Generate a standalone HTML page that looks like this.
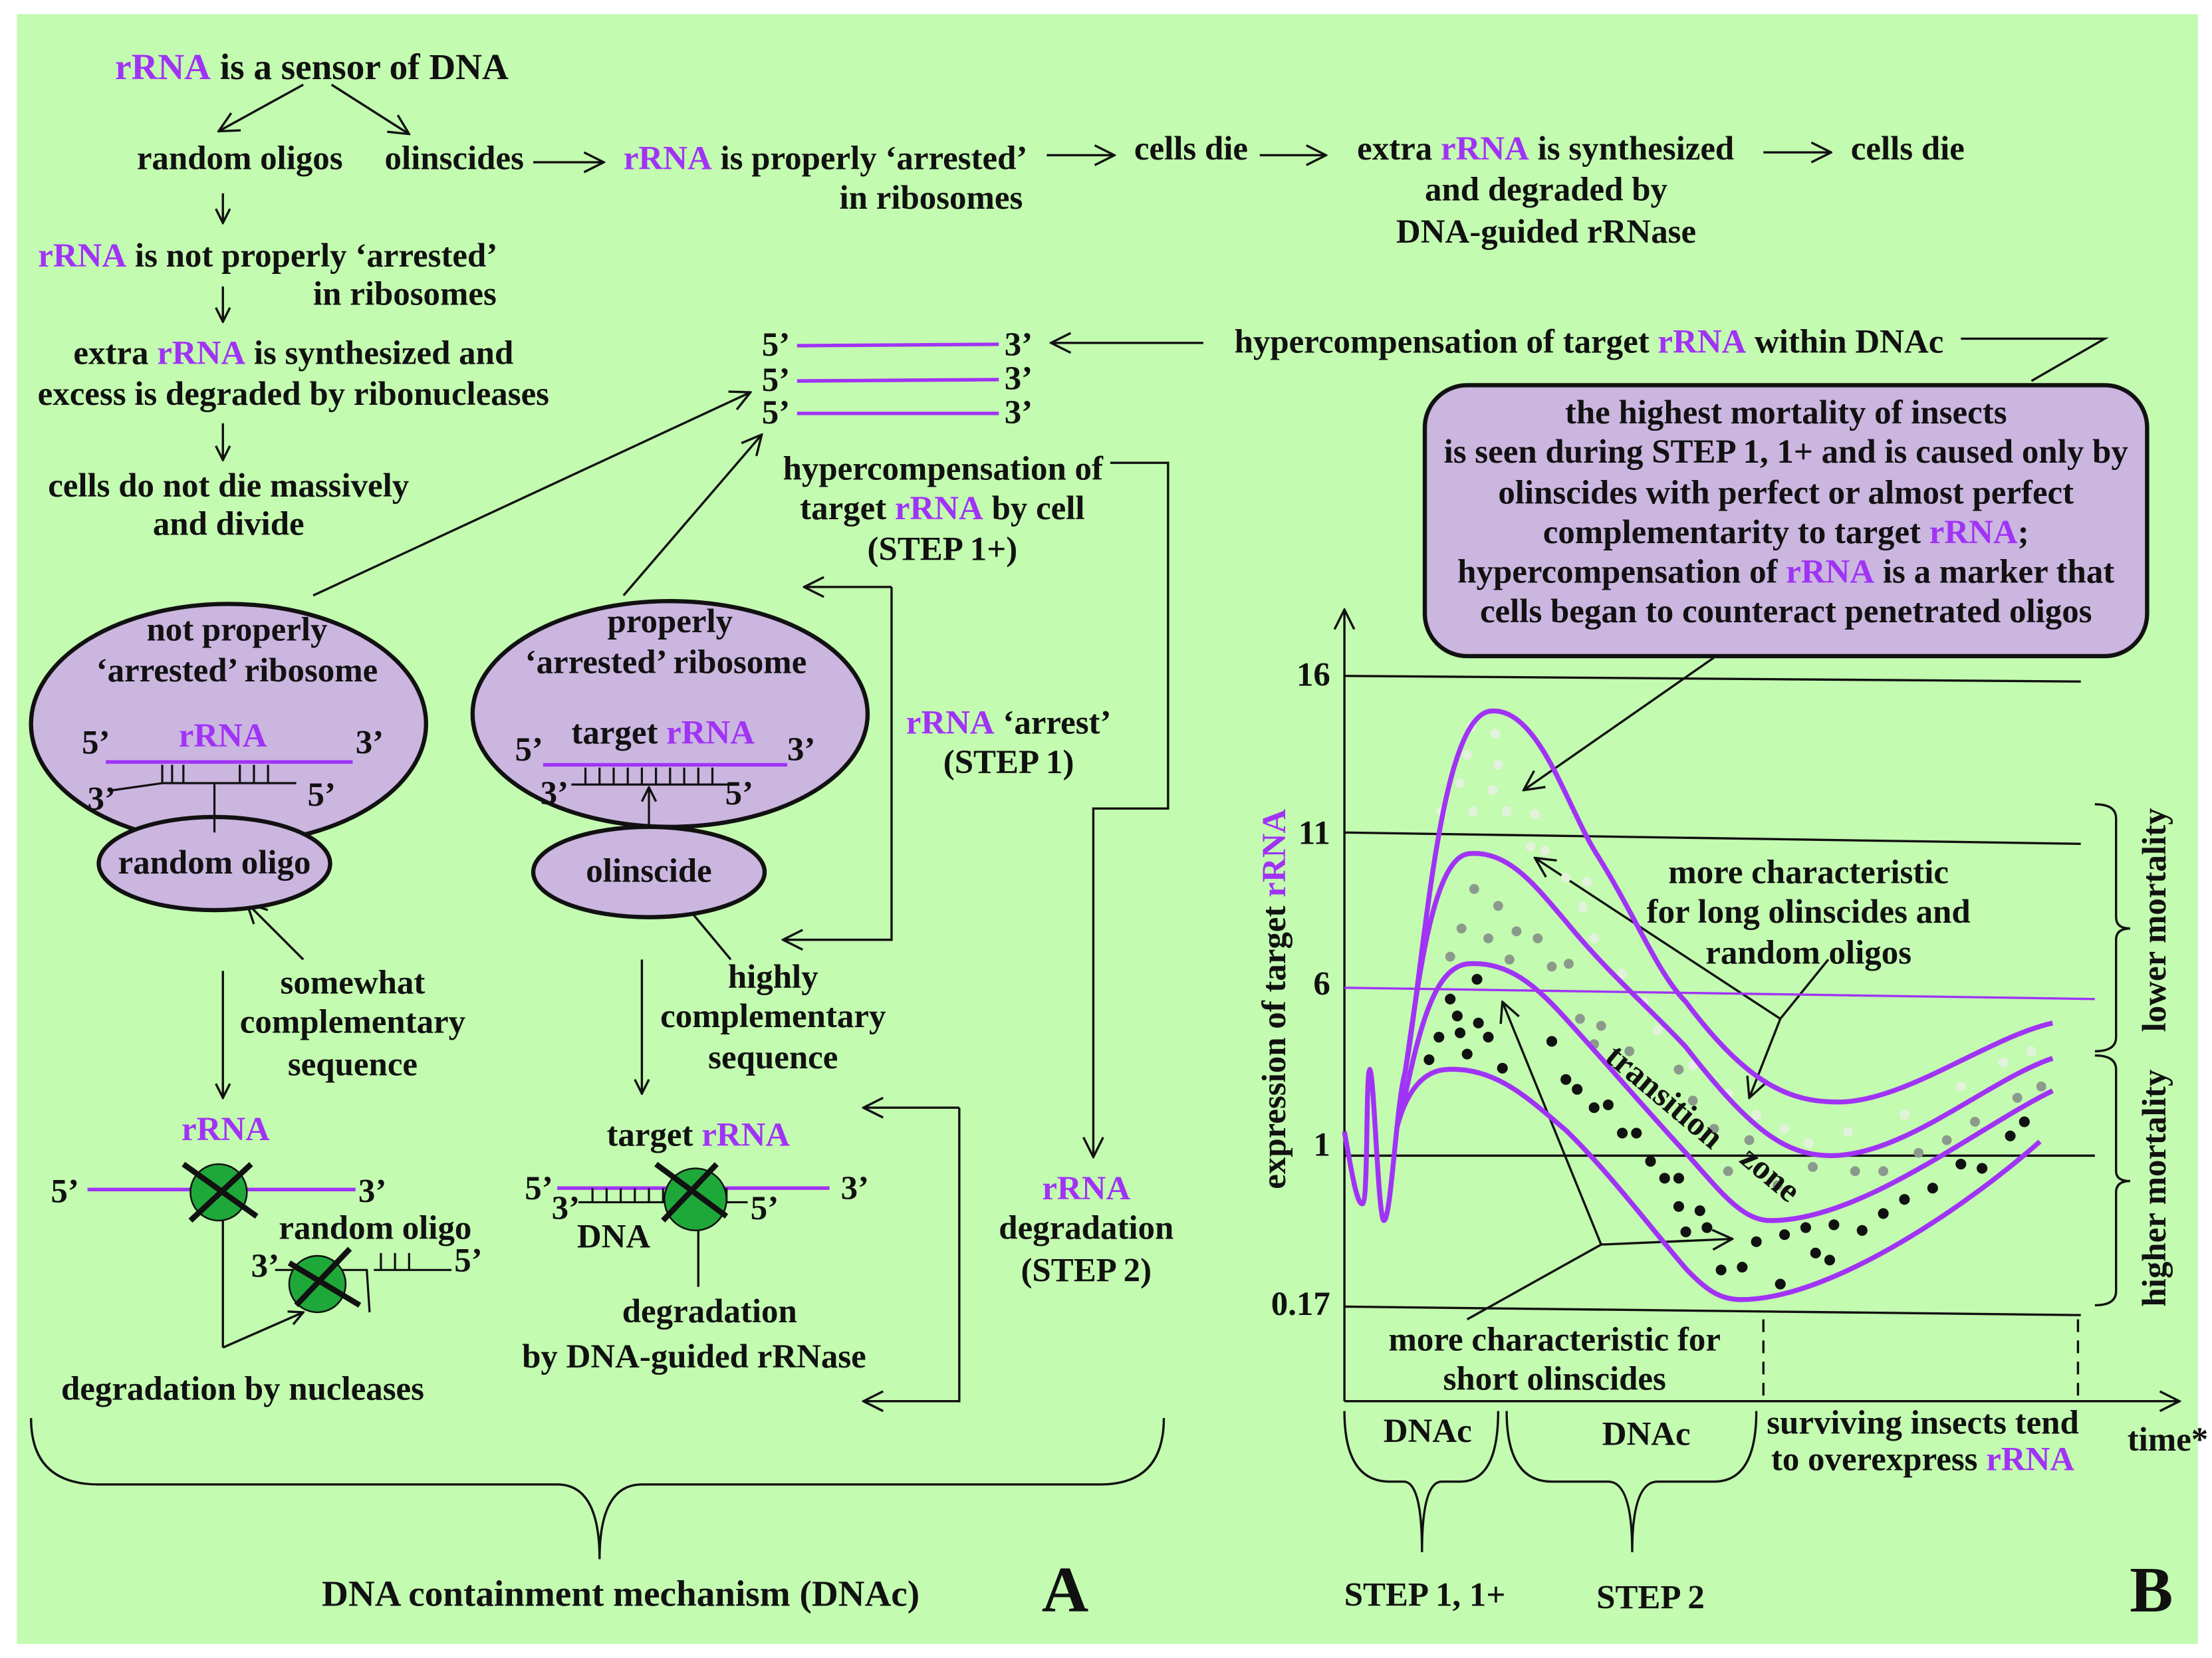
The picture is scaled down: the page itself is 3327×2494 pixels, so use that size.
<!DOCTYPE html>
<html><head><meta charset="utf-8"><style>
html,body{margin:0;padding:0;background:#fff}
svg{display:block}
text{font-family:"Liberation Serif",serif;font-weight:bold;fill:#111}
.p{fill:#a033f5}
</style></head><body>
<svg width="3327" height="2494" viewBox="0 0 1568 1175" preserveAspectRatio="none" xmlns="http://www.w3.org/2000/svg">
<defs>
<marker id="a" viewBox="0 0 12 12" refX="11" refY="6" markerWidth="12" markerHeight="12" markerUnits="userSpaceOnUse" orient="auto">
<polyline points="1,1 11,6 1,11" fill="none" stroke="#111" stroke-width="1.6"/></marker>
<marker id="b" viewBox="0 0 16 16" refX="15" refY="8" markerWidth="16" markerHeight="16" markerUnits="userSpaceOnUse" orient="auto">
<polyline points="1,1 15,8 1,15" fill="none" stroke="#111" stroke-width="1.6"/></marker>
</defs>
<rect x="12" y="10" width="1546" height="1155" fill="#c3fbb0"/>
<g stroke="#111" stroke-width="1.6" fill="none">
<line x1="215" y1="60" x2="155" y2="93" marker-end="url(#b)"/>
<line x1="235" y1="60" x2="290" y2="95" marker-end="url(#b)"/>
<line x1="378" y1="115" x2="428" y2="115" marker-end="url(#b)"/>
<line x1="742" y1="110" x2="790" y2="110" marker-end="url(#b)"/>
<line x1="893" y1="110" x2="940" y2="110" marker-end="url(#b)"/>
<line x1="1250" y1="108" x2="1298" y2="108" marker-end="url(#b)"/>
<line x1="158" y1="137" x2="158" y2="158" marker-end="url(#a)"/>
<line x1="158" y1="203" x2="158" y2="228" marker-end="url(#a)"/>
<line x1="158" y1="300" x2="158" y2="326" marker-end="url(#a)"/>
<line x1="853" y1="243" x2="745" y2="243" marker-end="url(#b)"/>
<polyline points="1390,240 1492,240 1440,270"/>
<line x1="222" y1="422" x2="532" y2="278" marker-end="url(#b)"/>
<line x1="442" y1="422" x2="540" y2="308" marker-end="url(#b)"/>
<polyline points="787,328 828,328 828,573 775,573 775,820" marker-end="url(#b)"/>
<line x1="632" y1="416" x2="570" y2="416" marker-end="url(#b)"/>
<polyline points="632,416 632,666 555,666" marker-end="url(#b)"/>
<line x1="215" y1="680" x2="175" y2="640" marker-end="url(#b)"/>
<line x1="518" y1="680" x2="478" y2="632" marker-end="url(#b)"/>
<line x1="158" y1="688" x2="158" y2="778" marker-end="url(#a)"/>
<line x1="455" y1="680" x2="455" y2="775" marker-end="url(#a)"/>
<line x1="680" y1="785" x2="612" y2="785" marker-end="url(#b)"/>
<polyline points="680,785 680,993 612,993" marker-end="url(#b)"/>
<polyline points="158,955 158,852" marker-end="url(#a)"/>
<polyline points="158,955 215,930" marker-end="url(#a)"/>
<line x1="495" y1="912" x2="495" y2="860" marker-end="url(#a)"/>
<path d="M22,1005 Q22,1052 70,1052 L395,1052 Q425,1052 425,1105 Q425,1052 455,1052 L780,1052 Q825,1052 825,1005"/>
<line x1="953" y1="993" x2="953" y2="432" marker-end="url(#b)"/>
<line x1="953" y1="993" x2="1545" y2="993" marker-end="url(#b)"/>
<line x1="953" y1="479" x2="1475" y2="483"/>
<line x1="953" y1="590" x2="1475" y2="598"/>
<line x1="953" y1="819" x2="1485" y2="819"/>
<line x1="953" y1="926" x2="1475" y2="932"/>
<line x1="1250" y1="935" x2="1250" y2="993" stroke-dasharray="9,6"/>
<line x1="1473" y1="935" x2="1473" y2="993" stroke-dasharray="9,6"/>
<line x1="1215" y1="466" x2="1080" y2="560" marker-end="url(#b)"/>
<line x1="1262" y1="722" x2="1088" y2="608" marker-end="url(#b)"/>
<line x1="1262" y1="722" x2="1296" y2="680"/>
<line x1="1262" y1="722" x2="1240" y2="778" marker-end="url(#b)"/>
<line x1="1040" y1="935" x2="1135" y2="882"/>
<line x1="1135" y1="882" x2="1065" y2="710" marker-end="url(#b)"/>
<line x1="1135" y1="882" x2="1228" y2="878" marker-end="url(#b)"/>
<path d="M1485,570 Q1500,570 1500,580 L1500,650 Q1500,658 1510,658 Q1500,658 1500,666 L1500,735 Q1500,745 1485,745"/>
<path d="M1485,748 Q1500,748 1500,758 L1500,830 Q1500,837 1510,837 Q1500,837 1500,845 L1500,915 Q1500,925 1485,925"/>
<path d="M953,1000 Q953,1050 985,1050 L995,1050 Q1008,1050 1008,1100 Q1008,1050 1022,1050 L1035,1050 Q1062,1050 1062,1000"/>
<path d="M1068,1000 Q1068,1050 1100,1050 L1140,1050 Q1157,1050 1157,1100 Q1157,1050 1175,1050 L1215,1050 Q1245,1050 1245,1000"/>
</g>
<line x1="953" y1="700" x2="1485" y2="708" stroke="#a033f5" stroke-width="1.6"/>
<g stroke="#a033f5" stroke-width="2.5">
<line x1="565" y1="245" x2="708" y2="244"/><line x1="565" y1="270" x2="708" y2="269"/><line x1="565" y1="293" x2="708" y2="293"/>
</g>
<g fill="#cbb6e0" stroke="#111" stroke-width="3">
<ellipse cx="162" cy="513" rx="140" ry="85"/>
<ellipse cx="475" cy="506" rx="140" ry="80"/>
<ellipse cx="152" cy="612" rx="82" ry="33"/>
<ellipse cx="460" cy="618" rx="82" ry="32"/>
<rect x="1010" y="273" width="512" height="192" rx="30"/>
</g>
<g stroke="#a033f5" stroke-width="2.5">
<line x1="75" y1="540" x2="250" y2="540"/>
<line x1="385" y1="542" x2="558" y2="542"/>
<line x1="62" y1="843" x2="252" y2="843"/>
<line x1="395" y1="842" x2="588" y2="842"/>
</g>
<g stroke="#111" stroke-width="1.5" fill="none">
<polyline points="115,542 115,555 152,555 152,590"/>
<path d="M80,560 L115,555"/><path d="M152,555 L210,555"/>
<line x1="122" y1="542" x2="122" y2="555"/><line x1="130" y1="542" x2="130" y2="555"/>
<line x1="170" y1="542" x2="170" y2="555"/><line x1="180" y1="542" x2="180" y2="555"/><line x1="190" y1="542" x2="190" y2="555"/>
<line x1="405" y1="556" x2="520" y2="556"/>
<path d="M415,544 V556 M425,544 V556 M435,544 V556 M445,544 V556 M455,544 V556 M465,544 V556 M475,544 V556 M485,544 V556 M495,544 V556 M505,544 V556"/>
<line x1="460" y1="585" x2="460" y2="558" marker-end="url(#a)"/>
<line x1="410" y1="852" x2="530" y2="852"/>
<path d="M420,842 V852 M430,842 V852 M440,842 V852 M450,842 V852 M460,842 V852 M470,842 V852 M505,842 V852 M515,842 V852"/>
<path d="M195,900 L260,900 L262,930 M265,900 H320 M270,888 V900 M280,888 V900 M290,888 V900"/>
</g>
<g fill="#1fa83a" stroke="#111" stroke-width="1.2">
<circle cx="155" cy="845" r="20"/><circle cx="225" cy="910" r="20"/><circle cx="493" cy="850" r="22"/>
</g>
<g stroke="#111" stroke-width="4">
<line x1="130" y1="825" x2="182" y2="862"/><line x1="178" y1="825" x2="135" y2="865"/>
<line x1="205" y1="895" x2="255" y2="925"/><line x1="248" y1="885" x2="210" y2="925"/>
<line x1="465" y1="825" x2="515" y2="862"/><line x1="508" y1="825" x2="470" y2="865"/>
</g>
<g fill="#e3f2dc">
<circle cx="1043" cy="515" r="3.5"/><circle cx="1060" cy="520" r="3.5"/><circle cx="1040" cy="535" r="3.5"/><circle cx="1062" cy="542" r="3.5"/><circle cx="1035" cy="555" r="3.5"/><circle cx="1058" cy="560" r="3.5"/><circle cx="1022" cy="575" r="3.5"/><circle cx="1044" cy="575" r="3.5"/><circle cx="1068" cy="575" r="3.5"/><circle cx="1088" cy="577" r="3.5"/><circle cx="1085" cy="600" r="3.5"/><circle cx="1095" cy="603" r="3.5"/><circle cx="1110" cy="622" r="3.5"/><circle cx="1125" cy="625" r="3.5"/><circle cx="1122" cy="643" r="3.5"/><circle cx="1130" cy="665" r="3.5"/><circle cx="1150" cy="690" r="3.5"/><circle cx="1165" cy="710" r="3.5"/><circle cx="1175" cy="730" r="3.5"/><circle cx="1200" cy="755" r="3.5"/><circle cx="1225" cy="775" r="3.5"/><circle cx="1245" cy="790" r="3.5"/><circle cx="1265" cy="800" r="3.5"/><circle cx="1282" cy="810" r="3.5"/><circle cx="1310" cy="802" r="3.5"/><circle cx="1350" cy="790" r="3.5"/><circle cx="1390" cy="770" r="3.5"/><circle cx="1420" cy="753" r="3.5"/><circle cx="1440" cy="745" r="3.5"/>
</g>
<g fill="#8b9a8c">
<circle cx="1045" cy="630" r="3.5"/><circle cx="1062" cy="642" r="3.5"/><circle cx="1036" cy="658" r="3.5"/><circle cx="1055" cy="665" r="3.5"/><circle cx="1075" cy="660" r="3.5"/><circle cx="1090" cy="665" r="3.5"/><circle cx="1028" cy="678" r="3.5"/><circle cx="1070" cy="680" r="3.5"/><circle cx="1100" cy="685" r="3.5"/><circle cx="1112" cy="683" r="3.5"/><circle cx="1120" cy="722" r="3.5"/><circle cx="1135" cy="727" r="3.5"/><circle cx="1130" cy="740" r="3.5"/><circle cx="1155" cy="745" r="3.5"/><circle cx="1190" cy="758" r="3.5"/><circle cx="1200" cy="780" r="3.5"/><circle cx="1215" cy="800" r="3.5"/><circle cx="1240" cy="808" r="3.5"/><circle cx="1225" cy="830" r="3.5"/><circle cx="1260" cy="840" r="3.5"/><circle cx="1285" cy="827" r="3.5"/><circle cx="1315" cy="830" r="3.5"/><circle cx="1335" cy="830" r="3.5"/><circle cx="1360" cy="817" r="3.5"/><circle cx="1380" cy="808" r="3.5"/><circle cx="1400" cy="795" r="3.5"/><circle cx="1430" cy="778" r="3.5"/><circle cx="1447" cy="770" r="3.5"/>
</g>
<g fill="#111">
<circle cx="1047" cy="694" r="3.8"/><circle cx="1028" cy="708" r="3.8"/><circle cx="1033" cy="720" r="3.8"/><circle cx="1048" cy="725" r="3.8"/><circle cx="1020" cy="735" r="3.8"/><circle cx="1035" cy="732" r="3.8"/><circle cx="1055" cy="735" r="3.8"/><circle cx="1013" cy="751" r="3.8"/><circle cx="1040" cy="747" r="3.8"/><circle cx="1100" cy="738" r="3.8"/><circle cx="1065" cy="757" r="3.8"/><circle cx="1110" cy="765" r="3.8"/><circle cx="1118" cy="772" r="3.8"/><circle cx="1130" cy="785" r="3.8"/><circle cx="1140" cy="783" r="3.8"/><circle cx="1150" cy="803" r="3.8"/><circle cx="1160" cy="803" r="3.8"/><circle cx="1170" cy="823" r="3.8"/><circle cx="1180" cy="835" r="3.8"/><circle cx="1190" cy="835" r="3.8"/><circle cx="1190" cy="855" r="3.8"/><circle cx="1205" cy="858" r="3.8"/><circle cx="1195" cy="873" r="3.8"/><circle cx="1210" cy="870" r="3.8"/><circle cx="1245" cy="880" r="3.8"/><circle cx="1265" cy="875" r="3.8"/><circle cx="1280" cy="870" r="3.8"/><circle cx="1300" cy="868" r="3.8"/><circle cx="1320" cy="872" r="3.8"/><circle cx="1335" cy="860" r="3.8"/><circle cx="1350" cy="850" r="3.8"/><circle cx="1370" cy="842" r="3.8"/><circle cx="1390" cy="825" r="3.8"/><circle cx="1405" cy="828" r="3.8"/><circle cx="1425" cy="805" r="3.8"/><circle cx="1435" cy="795" r="3.8"/><circle cx="1220" cy="900" r="3.8"/><circle cx="1235" cy="898" r="3.8"/><circle cx="1262" cy="910" r="3.8"/><circle cx="1297" cy="893" r="3.8"/><circle cx="1287" cy="888" r="3.8"/>
</g>
<g stroke="#a033f5" stroke-width="3.5" fill="none">
<path d="M953,802 C958,830 962,855 966,853 C970,850 968,760 971,758 C974,760 977,865 981,865 C986,865 990,780 996,760 C1010,680 1020,510 1056,504 C1090,500 1110,570 1131,604 C1160,650 1175,690 1195,710 C1240,770 1270,781 1303,781 C1350,781 1410,735 1455,725"/>
<path d="M996,760 C1005,700 1015,608 1041,605 C1070,602 1090,630 1110,653 C1140,690 1170,715 1195,742 C1240,800 1265,819 1298,819 C1350,819 1410,765 1455,750"/>
<path d="M993,790 C1005,735 1015,685 1041,683 C1070,681 1090,700 1110,722 C1140,755 1170,790 1195,817 C1220,845 1235,865 1255,865 C1320,865 1400,800 1455,773"/>
<path d="M990,800 C995,780 1005,760 1024,758 C1060,755 1085,780 1110,801 C1140,830 1170,870 1195,899 C1210,915 1220,921 1234,921 C1300,921 1400,850 1446,809"/>
</g>
<g font-size="24">
<text x="221" y="56" text-anchor="middle" font-size="26"><tspan class="p">rRNA</tspan> is a sensor of DNA</text>
<text x="170" y="120" text-anchor="middle">random oligos</text>
<text x="322" y="120" text-anchor="middle">olinscides</text>
<text x="442" y="120"><tspan class="p">rRNA</tspan> is properly ‘arrested’</text>
<text x="725" y="148" text-anchor="end">in ribosomes</text>
<text x="804" y="113">cells die</text>
<text x="962" y="113">extra <tspan class="p">rRNA</tspan> is synthesized</text>
<text x="1096" y="142" text-anchor="middle">and degraded by</text>
<text x="1096" y="172" text-anchor="middle">DNA-guided rRNase</text>
<text x="1312" y="113">cells die</text>
<text x="27" y="189"><tspan class="p">rRNA</tspan> is not properly ‘arrested’</text>
<text x="222" y="216">in ribosomes</text>
<text x="208" y="258" text-anchor="middle">extra <tspan class="p">rRNA</tspan> is synthesized and</text>
<text x="208" y="287" text-anchor="middle">excess is degraded by ribonucleases</text>
<text x="162" y="352" text-anchor="middle">cells do not die massively</text>
<text x="162" y="379" text-anchor="middle">and divide</text>
<text x="540" y="252">5’</text><text x="712" y="252">3’</text>
<text x="540" y="277">5’</text><text x="712" y="276">3’</text>
<text x="540" y="300">5’</text><text x="712" y="300">3’</text>
<text x="875" y="250">hypercompensation of target <tspan class="p">rRNA</tspan> within DNAc</text>
<text x="1266" y="300" text-anchor="middle">the highest mortality of insects</text>
<text x="1266" y="328" text-anchor="middle">is seen during STEP 1, 1+ and is caused only by</text>
<text x="1266" y="357" text-anchor="middle">olinscides with perfect or almost perfect</text>
<text x="1266" y="385" text-anchor="middle">complementarity to target <tspan class="p">rRNA</tspan>;</text>
<text x="1266" y="413" text-anchor="middle">hypercompensation of <tspan class="p">rRNA</tspan> is a marker that</text>
<text x="1266" y="441" text-anchor="middle">cells began to counteract penetrated oligos</text>
<text x="555" y="340">hypercompensation of</text>
<text x="668" y="368" text-anchor="middle">target <tspan class="p">rRNA</tspan> by cell</text>
<text x="668" y="397" text-anchor="middle">(STEP 1+)</text>
<text x="168" y="454" text-anchor="middle">not properly</text>
<text x="168" y="483" text-anchor="middle">‘arrested’ ribosome</text>
<text x="58" y="534">5’</text><text x="158" y="529" text-anchor="middle" class="p">rRNA</text><text x="252" y="534">3’</text>
<text x="62" y="574">3’</text><text x="218" y="571">5’</text>
<text x="152" y="619" text-anchor="middle">random oligo</text>
<text x="475" y="448" text-anchor="middle">properly</text>
<text x="472" y="477" text-anchor="middle">‘arrested’ ribosome</text>
<text x="365" y="539">5’</text><text x="470" y="527" text-anchor="middle">target <tspan class="p">rRNA</tspan></text><text x="558" y="539">3’</text>
<text x="383" y="570">3’</text><text x="514" y="570">5’</text>
<text x="460" y="625" text-anchor="middle">olinscide</text>
<text x="250" y="704" text-anchor="middle">somewhat</text>
<text x="250" y="732" text-anchor="middle">complementary</text>
<text x="250" y="762" text-anchor="middle">sequence</text>
<text x="548" y="700" text-anchor="middle">highly</text>
<text x="548" y="728" text-anchor="middle">complementary</text>
<text x="548" y="757" text-anchor="middle">sequence</text>
<text x="715" y="520" text-anchor="middle"><tspan class="p">rRNA</tspan> ‘arrest’</text>
<text x="715" y="548" text-anchor="middle">(STEP 1)</text>
<text x="160" y="808" text-anchor="middle" class="p">rRNA</text>
<text x="36" y="852">5’</text><text x="254" y="852">3’</text>
<text x="266" y="878" text-anchor="middle">random oligo</text>
<text x="178" y="905">3’</text><text x="322" y="901">5’</text>
<text x="172" y="992" text-anchor="middle">degradation by nucleases</text>
<text x="495" y="812" text-anchor="middle">target <tspan class="p">rRNA</tspan></text>
<text x="372" y="850">5’</text><text x="596" y="850">3’</text>
<text x="391" y="864">3’</text><text x="532" y="864">5’</text>
<text x="435" y="884" text-anchor="middle">DNA</text>
<text x="503" y="937" text-anchor="middle">degradation</text>
<text x="492" y="969" text-anchor="middle">by DNA-guided rRNase</text>
<text x="770" y="850" text-anchor="middle" class="p">rRNA</text>
<text x="770" y="878" text-anchor="middle">degradation</text>
<text x="770" y="908" text-anchor="middle">(STEP 2)</text>
<text x="440" y="1138" text-anchor="middle" font-size="26">DNA containment mechanism (DNAc)</text>
<text x="755" y="1142" text-anchor="middle" font-size="46">A</text>
<text x="1525" y="1142" text-anchor="middle" font-size="46">B</text>
<text x="943" y="486" text-anchor="end">16</text>
<text x="943" y="598" text-anchor="end">11</text>
<text x="943" y="705" text-anchor="end">6</text>
<text x="943" y="819" text-anchor="end">1</text>
<text x="943" y="932" text-anchor="end">0.17</text>
<text transform="translate(911,708) rotate(-90)" text-anchor="middle">expression of target <tspan class="p">rRNA</tspan></text>
<text transform="translate(1535,652) rotate(-90)" text-anchor="middle">lower mortality</text>
<text transform="translate(1535,842) rotate(-90)" text-anchor="middle">higher mortality</text>
<text x="1282" y="626" text-anchor="middle">more characteristic</text>
<text x="1282" y="654" text-anchor="middle">for long olinscides and</text>
<text x="1282" y="683" text-anchor="middle">random oligos</text>
<text transform="translate(1175,783) rotate(40)" text-anchor="middle">transition</text>
<text transform="translate(1250,838) rotate(40)" text-anchor="middle">zone</text>
<text x="1102" y="957" text-anchor="middle">more characteristic for</text>
<text x="1102" y="985" text-anchor="middle">short olinscides</text>
<text x="1012" y="1022" text-anchor="middle">DNAc</text>
<text x="1167" y="1024" text-anchor="middle">DNAc</text>
<text x="1363" y="1016" text-anchor="middle">surviving insects tend</text>
<text x="1363" y="1042" text-anchor="middle">to overexpress <tspan class="p">rRNA</tspan></text>
<text x="1508" y="1028">time*</text>
<text x="1010" y="1138" text-anchor="middle">STEP 1, 1+</text>
<text x="1170" y="1140" text-anchor="middle">STEP 2</text>
</g>
</svg>
</body></html>
